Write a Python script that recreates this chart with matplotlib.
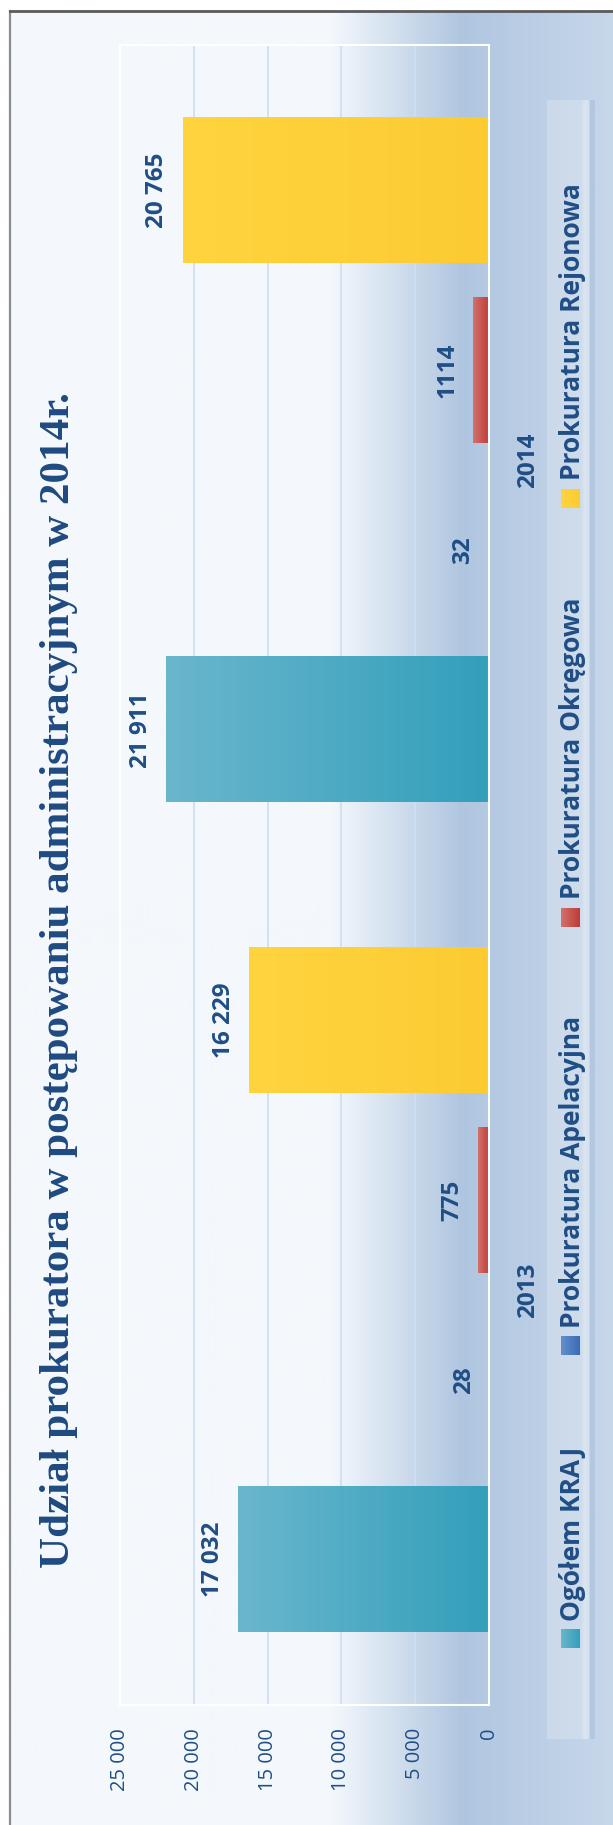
import numpy as np
import matplotlib.pyplot as plt
from matplotlib.colors import LinearSegmentedColormap, to_rgb
from matplotlib.ticker import FuncFormatter

plt.rcParams['font.family'] = ['Open Sans', 'DejaVu Sans']

title = 'Udział prokuratora w postępowaniu administracyjnym w 2014r.'
years = ['2013', '2014']
series = ['Ogółem KRAJ', 'Prokuratura Apelacyjna', 'Prokuratura Okręgowa', 'Prokuratura Rejonowa']
ogolem = [17032, 21911]
apelacyjna = [28, 32]
okregowa = [775, 1114]
rejonowa = [16229, 20765]
values = [ogolem, apelacyjna, okregowa, rejonowa]

# colour at the far end of the bar -> colour at the axis
bar_cols = [('#6ab6cd', '#339fbb'), ('#6190cc', '#3a6cb4'),
            ('#d3716d', '#bd3b37'), ('#ffd43f', '#fccb32')]
txt = '#1f4e85'

W, H = 613, 1825
fig = plt.figure(figsize=(W / 100, H / 100), dpi=100)
fig.patch.set_facecolor('white')


def grad(c0, c1, n=128):
    a, b = np.array(to_rgb(c0)), np.array(to_rgb(c1))
    t = np.linspace(0, 1, n)[:, None]
    return (a + (b - a) * t)[None, :, :]


# background layer in pixel coords (y down)
bg = fig.add_axes([0, 0, 1, 1])
bg.axis('off')
cmap = LinearSegmentedColormap.from_list(
    'bg', [(0, '#f4f8fc'), ((330 - 10) / 603, '#f4f8fc'),
           ((463 - 10) / 603, '#b0c6e0'), (1, '#c7d7ea')])
bg.imshow(np.linspace(0, 1, 600)[None, :], cmap=cmap, aspect='auto',
          extent=(10, W, H, 11), zorder=0)
bg.plot([10, 10], [11, H], color='#8c8c8c', lw=1.6, zorder=3)
bg.plot([10, W], [11, 11], color='#5a5a5a', lw=2, zorder=3)

bg.text(69, 980, title, rotation=90, rotation_mode='anchor', ha='center',
        va='baseline', fontsize=31, family=['Liberation Serif'],
        weight='bold', color='#1f4a80', zorder=4)

# legend strip
lcmap = LinearSegmentedColormap.from_list(
    'leg', [(0, '#cbd9ea'), (0.72, '#cfdcec'), (0.78, '#dbe5f1'),
            (0.88, '#d6e1ef'), (0.9, '#b3c7e1'), (1, '#b3c7e1')])
bg.imshow(np.linspace(0, 1, 200)[None, :], cmap=lcmap, aspect='auto',
          extent=(547, 595, 1739, 100), zorder=1)
leg_centers = [1639, 1346, 917, 498]
for name, (c0, c1), yc in zip(series, bar_cols, leg_centers):
    bg.imshow(grad(c0, c1), aspect='auto',
              extent=(561, 580, yc + 9.5, yc - 9.5), zorder=2)
    bg.text(580, yc - 18, name, rotation=90, rotation_mode='anchor',
            ha='left', va='baseline', fontsize=19, weight='bold',
            color=txt, zorder=4)
bg.set_xlim(0, W)
bg.set_ylim(H, 0)

# chart
ax = fig.add_axes([120 / W, 1 - 1705 / H, (489 - 120) / W, (1705 - 45) / H])
ax.patch.set_alpha(0)
offsets = [-0.325, -0.1085, 0.1085, 0.325]
width = 0.175
ypos = np.arange(len(years))

for vals, off, (c0, c1) in zip(values, offsets, bar_cols):
    bars = ax.barh(ypos + off, vals, height=width, color='none', lw=0)
    for b, v in zip(bars, vals):
        y0 = b.get_y()
        ax.imshow(grad(c0, c1), aspect='auto', zorder=2,
                  extent=(b.get_width(), 0, y0, y0 + b.get_height()))
        lab = f'{v:,}'.replace(',', ' ') if v >= 10000 else str(v)
        ax.annotate(lab, xy=(b.get_width(), y0 + b.get_height() / 2),
                    xytext=(-13.7, 0), textcoords='offset points',
                    rotation=90, rotation_mode='anchor', ha='center',
                    va='baseline', fontsize=17.5, weight='bold', color=txt)

ax.set_xlim(25000, 0)
ax.set_ylim(-0.5, 1.5)
ax.set_xticks(range(0, 25001, 5000))
ax.xaxis.set_major_formatter(FuncFormatter(lambda v, p: f'{int(v):,}'.replace(',', ' ')))
ax.tick_params(axis='x', length=0, pad=16.5, labelsize=14.5, labelcolor=txt,
               labelrotation=90)
ax.yaxis.tick_right()
ax.set_yticks(ypos, years)
ax.tick_params(axis='y', length=0, pad=19.5, labelsize=17.5, labelcolor=txt,
               labelrotation=90)
for t in ax.get_yticklabels():
    t.set_fontweight('bold')
    t.set_verticalalignment('center')
ax.grid(axis='x', color='#cfdff3', lw=1.3)
ax.set_axisbelow(True)
for s in ax.spines.values():
    s.set_color('white')
    s.set_linewidth(1.5)

fig.savefig('out.png', dpi=100)
